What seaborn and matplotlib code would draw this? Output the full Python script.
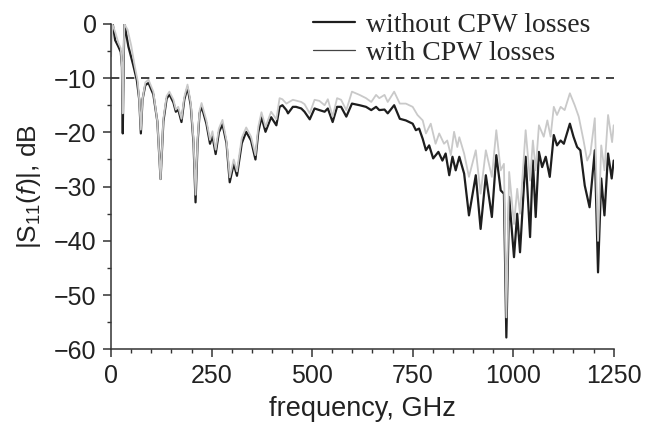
import numpy as np
import pandas as pd
import matplotlib
matplotlib.use('Agg')
import matplotlib.pyplot as plt
import seaborn as sns
from matplotlib.lines import Line2D
from matplotlib.ticker import MultipleLocator

# |S11|: frequency (GHz), level (dB)
freq_lossless = [0, 4, 10, 18, 24, 27, 29, 31, 33, 43, 55, 64, 70, 74, 78, 85, 93, 105, 115, 123,
                 130, 138, 145, 155, 161, 167, 175, 182, 190, 198, 205, 210, 215, 220, 225, 237, 246,
                 252, 260, 268, 277, 287, 295, 305, 313, 325, 336, 348, 359, 366, 374, 384, 398, 411,
                 419, 426, 436, 440, 452, 460, 473, 481, 494, 506, 518, 531, 539, 551, 562, 572, 585,
                 599, 618, 634, 647, 659, 667, 680, 688, 704, 718, 733, 750, 758, 766, 775, 783, 791,
                 801, 814, 824, 832, 841, 849, 857, 866, 878, 890, 907, 919, 932, 947, 958, 969, 977,
                 983, 990, 1002, 1010, 1017, 1031, 1042, 1049, 1056, 1064, 1072, 1081, 1091, 1101,
                 1109, 1118, 1126, 1141, 1150, 1159, 1167, 1178, 1190, 1203, 1211, 1219, 1227, 1236,
                 1245, 1250]
s11_lossless = [0, 0, -3, -4.2, -5.2, -8, -20.2, -8, 0, -4.2, -7.6, -10.4, -14, -20.2, -14, -11.3,
                -10.9, -13, -18, -28.6, -18, -13.8, -13, -14.5, -16.2, -15.8, -18.1, -14, -11.7, -15,
                -22, -32.9, -22, -16.5, -15.2, -18.4, -22.1, -20.6, -24, -20, -18.5, -22, -29.2, -25.8,
                -28, -22, -19.9, -21.5, -25, -20, -17.2, -19.9, -17.2, -18.7, -15.3, -15, -15.9, -16.5,
                -15.3, -15.3, -15.6, -16.2, -17.6, -15.6, -15.9, -16.2, -15.6, -18.1, -15.3, -15.3,
                -17.1, -14.7, -15, -15.3, -15.9, -15.3, -15.9, -15.8, -16.5, -15, -17.5, -17.8, -18.4,
                -19.6, -19.3, -21.2, -23.3, -22.4, -24.8, -23.6, -25.2, -23.9, -27.9, -24.5, -27,
                -24.5, -27.6, -35.3, -27.9, -37.8, -27.9, -35.6, -24.2, -30.7, -31.3, -57.8, -31.9,
                -43, -35, -42.1, -24.5, -39.3, -25.2, -35.6, -23.6, -26.4, -24.5, -28.2, -20.5, -22.4,
                -21.5, -22.1, -18.4, -20.8, -22.7, -23.3, -29.8, -33.8, -23.3, -45.8, -28.5, -35.3,
                -23.9, -28.5, -25.2]

freq_lossy = [0, 3, 10, 18, 24, 27, 29, 31, 33, 41, 50, 58, 66, 70, 74, 78, 85, 93, 105, 115, 123,
              130, 138, 145, 155, 161, 167, 175, 182, 190, 198, 205, 210, 215, 220, 225, 237, 246,
              252, 260, 268, 277, 287, 295, 305, 313, 325, 336, 348, 359, 366, 374, 384, 398, 411,
              419, 426, 436, 452, 473, 481, 494, 506, 518, 531, 539, 551, 562, 572, 585, 599, 618,
              634, 647, 659, 667, 680, 688, 704, 718, 733, 750, 762, 775, 783, 795, 807, 816, 828,
              836, 845, 853, 861, 866, 878, 890, 907, 919, 932, 947, 958, 969, 977, 983, 990, 1002,
              1010, 1017, 1031, 1042, 1049, 1056, 1064, 1076, 1085, 1093, 1101, 1109, 1118, 1128,
              1141, 1153, 1163, 1175, 1184, 1192, 1203, 1211, 1219, 1227, 1236, 1246, 1250]
s11_lossy = [-6, 0, -1.5, -3.5, -4.5, -8, -16.5, -6, 0, -1.1, -4, -7.5, -10.5, -14, -19.5, -14, -10.8,
             -10.3, -12.5, -18, -28.6, -17.5, -13.3, -12.5, -14, -15.8, -15.3, -17.5, -13.5, -11.2,
             -14.5, -21.5, -31.5, -21.5, -16, -14.6, -17.8, -21.4, -19.8, -23.2, -19.3, -17.7, -21.5,
             -28.3, -25, -27.2, -21, -19.1, -20.8, -24.2, -19, -16.3, -19, -16.2, -17.6, -13.7, -13.9,
             -14.7, -14, -14.4, -14.8, -16.5, -14, -14.2, -15, -13.9, -17.1, -13.7, -14, -15.9, -12.5,
             -13.1, -13.7, -14.4, -13.1, -13.7, -13.1, -14.4, -12.5, -14.7, -14.7, -15.3, -16.8,
             -17.8, -20.2, -18.4, -22.1, -20.2, -22.1, -21.5, -24.2, -19.9, -22.7, -20.9, -23.9,
             -28.2, -23.3, -31.3, -23.3, -28.2, -19.6, -27, -25.8, -54.1, -27.3, -36.9, -30.4, -35,
             -19.6, -28.9, -21.5, -27, -18.7, -20.8, -17.8, -20.8, -15.3, -16.8, -15.3, -15.9, -12.8,
             -15, -17.1, -21.5, -25.2, -23.9, -17.4, -40, -22.4, -27, -16.8, -21.8, -18.7]

series_labels = ['without CPW losses', 'with CPW losses']

df_a = pd.DataFrame({'f': freq_lossless, 's11': s11_lossless})
df_b = pd.DataFrame({'f': freq_lossy, 's11': s11_lossy})

sns.set_style('ticks')
plt.rcParams['font.family'] = ['Liberation Sans', 'DejaVu Sans']
plt.rcParams['mathtext.fontset'] = 'custom'
plt.rcParams['mathtext.rm'] = 'Liberation Sans'
plt.rcParams['mathtext.it'] = 'Liberation Sans:italic'

fig = plt.figure(figsize=(6.46, 4.33), dpi=100)
ax = fig.add_axes([0.172, 0.193, 0.778, 0.752])

sns.lineplot(data=df_a, x='f', y='s11', sort=False, estimator=None, color='#1e1e1e',
             linewidth=1.6, ax=ax)
sns.lineplot(data=df_b, x='f', y='s11', sort=False, estimator=None, color='#c9c9c9',
             linewidth=1.3, ax=ax)
ax.axhline(-10, color='#222222', linewidth=1.2, dashes=(5, 4))

ax.set_xlim(0, 1250)
ax.set_ylim(-60, 0)
ax.xaxis.set_major_locator(MultipleLocator(250))
ax.xaxis.set_minor_locator(MultipleLocator(50))
ax.yaxis.set_major_locator(MultipleLocator(10))
ax.yaxis.set_minor_locator(MultipleLocator(5))
ax.tick_params(axis='both', which='major', direction='out', length=5.5, width=1.1,
               labelsize=18, colors='#333333', labelcolor='#222222', pad=5)
ax.tick_params(axis='both', which='minor', direction='out', length=3, width=1.0, colors='#333333')
sns.despine(ax=ax)
for sp in ['left', 'bottom']:
    ax.spines[sp].set_linewidth(1.1)
    ax.spines[sp].set_color('#333333')

ax.set_xlabel('frequency, GHz', fontsize=19.5, color='#222222', labelpad=6)
ax.set_ylabel(r'$|\mathrm{S}_{11}(\mathit{f})|$, dB', fontsize=19, color='#222222', labelpad=8)

handles = [Line2D([], [], color='#1e1e1e', linewidth=1.6),
           Line2D([], [], color='#444444', linewidth=0.9)]
ax.legend(handles, series_labels, loc='upper right', bbox_to_anchor=(0.975, 1.07), frameon=False,
          prop={'family': 'Liberation Serif', 'size': 20}, handlelength=1.5, handletextpad=0.38,
          labelspacing=0.1, borderaxespad=0)

fig.savefig('out.png', dpi=100)
